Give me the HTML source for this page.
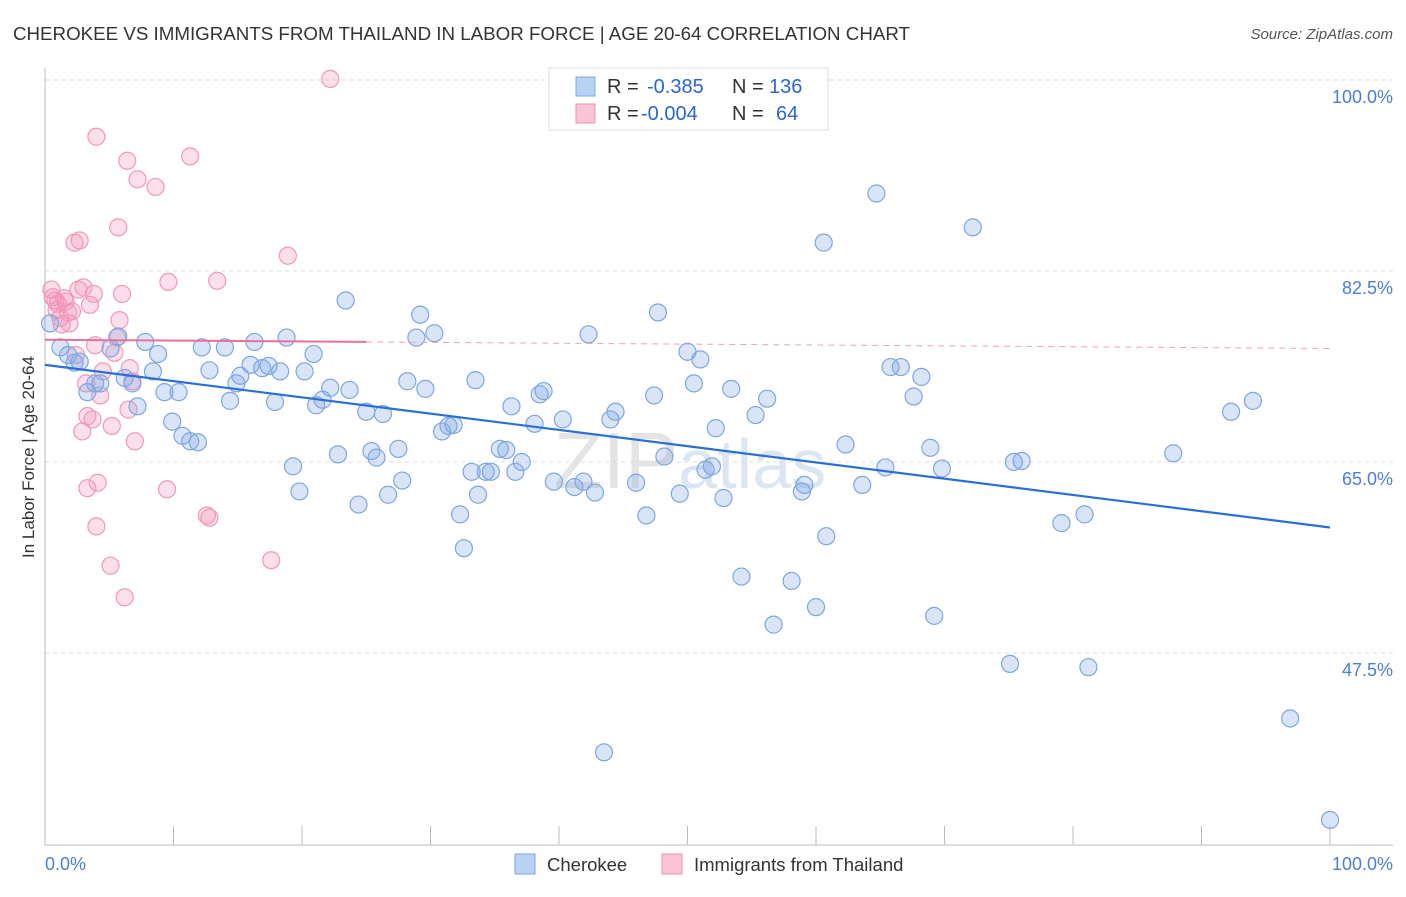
<!DOCTYPE html>
<html><head><meta charset="utf-8"><style>
body{margin:0;background:#fff;font-family:"Liberation Sans",sans-serif;}
svg text{font-family:"Liberation Sans",sans-serif;}
</style></head><body>
<svg id="chart" width="1406" height="892" xmlns="http://www.w3.org/2000/svg">
<text x="13" y="40" font-size="18" fill="#333" textLength="897" lengthAdjust="spacingAndGlyphs">CHEROKEE VS IMMIGRANTS FROM THAILAND IN LABOR FORCE | AGE 20-64 CORRELATION CHART</text>
<text x="1393" y="39" font-size="15" fill="#555" text-anchor="end" font-style="italic">Source: ZipAtlas.com</text>
<text x="690" y="488" font-size="80" fill="#e4e4e4" text-anchor="middle" font-family="Liberation Serif">ZIP<tspan fill="#dce6f3" font-family="Liberation Sans" font-size="70">atlas</tspan></text>
<text transform="translate(34,457) rotate(-90)" font-size="17" fill="#333" text-anchor="middle">In Labor Force | Age 20-64</text>
<g id="grid"></g><g id="axes"></g><g id="pts"></g><g id="trend"></g>
<g>
<rect x="549" y="68" width="279" height="62" fill="#fff" stroke="#ddd"/>
<rect x="576" y="77" width="19" height="19" fill="#b9d1f3" stroke="#7ea6e0"/>
<text x="607" y="93" font-size="20" fill="#333">R = </text><text x="647" y="93" font-size="20" fill="#2a66d0">-0.385</text>
<text x="732" y="93" font-size="20" fill="#333">N = </text><text x="769" y="93" font-size="20" fill="#2a66d0">136</text>
<rect x="576" y="104" width="19" height="19" fill="#f9c4d5" stroke="#ef93b2"/>
<text x="607" y="120" font-size="20" fill="#333">R = </text><text x="641" y="120" font-size="20" fill="#2a66d0">-0.004</text>
<text x="732" y="120" font-size="20" fill="#333">N = </text><text x="776" y="120" font-size="20" fill="#2a66d0">64</text>
</g>
<g>
<rect x="515" y="854" width="20" height="20" fill="#b9d1f3" stroke="#7ea6e0"/>
<text x="547" y="871" font-size="18.5" fill="#333">Cherokee</text>
<rect x="662" y="854" width="20" height="20" fill="#f9c4d5" stroke="#ef93b2"/>
<text x="694" y="871" font-size="18.5" fill="#333">Immigrants from Thailand</text>
</g>
</svg>
<script>
const yTicks=[100,82.5,65,47.5];
const yTickLabels=["100.0%","82.5%","65.0%","47.5%"];
const xTicks=[0,10,20,30,40,50,60,70,80,90,100];
const blueX=[0.4,1.2,1.8,2.3,2.7,3.9,4.3,3.3,5.1,5.7,6.2,6.8,7.2,7.8,8.4,8.8,9.3,9.9,10.4,10.7,11.3,11.9,12.2,12.8,14.0,14.4,14.9,15.2,16.0,16.3,16.9,17.4,17.9,18.3,18.8,19.3,19.8,20.2,20.9,21.1,21.6,22.2,22.8,23.4,23.7,24.4,25.0,25.4,25.8,26.3,26.7,27.5,27.8,28.2,28.9,29.2,29.6,30.3,30.9,31.4,31.8,32.3,32.6,33.2,33.5,33.7,34.3,34.7,35.4,35.9,36.3,36.6,37.1,38.1,38.5,38.8,39.6,40.3,41.2,41.9,42.3,42.8,44.0,44.4,43.5,46.0,46.8,47.4,47.7,48.2,49.4,50.0,50.5,51.0,51.4,51.9,52.2,52.8,53.4,54.2,55.3,56.2,56.7,58.1,58.9,59.1,60.0,60.6,60.8,62.3,63.6,64.7,65.4,65.8,66.6,67.6,68.2,68.9,69.2,69.8,72.2,75.1,75.4,76.0,79.1,80.9,81.2,87.8,92.3,94.0,96.9,100.0,44.7,53.7];
const blueY=[77.7,75.5,74.8,74.1,74.2,72.2,72.2,71.4,75.4,76.5,72.7,72.2,70.1,76.0,73.3,74.9,71.4,68.7,71.4,67.4,66.9,66.8,75.5,73.4,75.5,70.6,72.2,72.9,73.9,76.0,73.6,73.8,70.5,73.3,76.4,64.6,62.3,73.3,74.9,70.2,70.7,71.8,65.7,79.8,71.6,61.1,69.6,66.0,65.4,69.4,62.0,66.2,63.3,72.4,76.4,78.5,71.7,76.8,67.8,68.3,68.4,60.2,57.1,64.1,72.5,62.0,64.1,64.1,66.2,66.1,70.1,64.1,65.0,68.5,71.2,71.5,63.2,68.9,62.7,63.2,76.7,62.2,68.9,69.6,38.4,63.1,60.1,71.1,78.7,65.5,62.1,75.1,72.2,74.4,64.3,64.6,68.1,61.7,71.7,54.5,69.3,70.8,50.1,54.1,62.3,62.9,51.7,85.1,58.2,66.6,62.9,89.6,64.5,73.7,73.7,71.0,72.8,66.3,50.9,64.4,86.5,46.5,65.0,65.1,59.4,60.2,46.2,65.8,69.6,70.6,41.5,32.2,100.2,100.1];
const pinkX=[0.5,0.6,0.8,0.9,1.0,1.2,1.3,1.5,1.6,1.8,1.9,2.1,2.3,2.4,2.6,2.7,2.9,3.0,3.2,3.3,3.3,3.5,3.7,3.8,3.9,4.0,4.0,4.1,4.3,4.5,5.1,5.2,5.4,5.6,5.7,5.8,6.0,6.2,6.4,6.5,6.6,6.8,7.0,7.2,8.6,9.5,9.6,11.3,12.6,12.8,13.4,17.6,18.9,22.2];
const pinkY=[80.8,80.1,79.8,78.9,79.5,78.2,77.6,80.0,79.7,78.7,77.7,78.8,85.1,74.8,80.8,85.3,67.8,81.0,72.2,62.6,69.2,79.4,68.9,80.4,75.7,59.1,94.8,63.1,71.1,73.3,55.5,68.3,75.0,76.4,86.5,78.0,80.4,52.6,92.6,69.8,73.6,72.4,66.9,90.9,90.2,62.5,81.5,93.0,60.1,59.9,81.6,56.0,83.9,100.1];
const blueTrend=[73.9,59.0];
const pinkTrend=[76.2,75.4];
const pinkSolidEnd=25;
const NS="http://www.w3.org/2000/svg";
const X=v=>45+v*12.85, Y=v=>80+(100-v)*10.914;
function mk(tag,attrs,parent){const e=document.createElementNS(NS,tag);for(const k in attrs)e.setAttribute(k,attrs[k]);document.getElementById(parent).appendChild(e);return e;}
yTicks.forEach((t,i)=>{
 const g=mk('line',{x1:45,x2:1393,y1:Y(t),y2:Y(t),stroke:'#ddd','stroke-dasharray':'4,4'},'grid');
 
 
 const l=mk('text',{x:1393,y:Y(t)+23,'font-size':18,fill:'#4a7fd6','text-anchor':'end'},'grid');l.textContent=yTickLabels[i];
 
 
});
const ax=mk('line',{x1:45,x2:1393,y1:845,y2:845,stroke:'#bbb'},'axes');


const ay=mk('line',{x1:45,x2:45,y1:68,y2:845,stroke:'#bbb'},'axes');


xTicks.forEach(t=>{const e=mk('line',{x1:X(t),x2:X(t),y1:826,y2:845,stroke:'#bbb'},'axes');
 
 });
const x0=mk('text',{x:45,y:870,'font-size':18,fill:'#4a7fd6'},'axes');x0.textContent='0.0%';


const x1=mk('text',{x:1393,y:870,'font-size':18,fill:'#4a7fd6','text-anchor':'end'},'axes');x1.textContent='100.0%';


pinkX.forEach((v,i)=>{const c=mk('circle',{cx:X(v),cy:Y(pinkY[i]),r:8.5,fill:'rgba(244,150,185,0.3)',stroke:'#f098b8','stroke-width':1.2},'pts');
 
 });
blueX.forEach((v,i)=>{const c=mk('circle',{cx:X(v),cy:Y(blueY[i]),r:8.5,fill:'rgba(130,170,230,0.3)',stroke:'#7ea6e0','stroke-width':1.2},'pts');
 
 });
const bt=mk('line',{x1:X(0),y1:Y(blueTrend[0]),x2:X(100),y2:Y(blueTrend[1]),stroke:'#2a6fd6','stroke-width':2.2},'trend');


const pm=pinkTrend[0]+(pinkTrend[1]-pinkTrend[0])*pinkSolidEnd/100;
const ps=mk('line',{x1:X(0),y1:Y(pinkTrend[0]),x2:X(pinkSolidEnd),y2:Y(pm),stroke:'#e8709a','stroke-width':2},'trend');


const pd=mk('line',{x1:X(pinkSolidEnd),y1:Y(pm),x2:X(100),y2:Y(pinkTrend[1]),stroke:'#f0a0bc','stroke-width':1,'stroke-dasharray':'6,5'},'trend');


</script>
</body></html>
